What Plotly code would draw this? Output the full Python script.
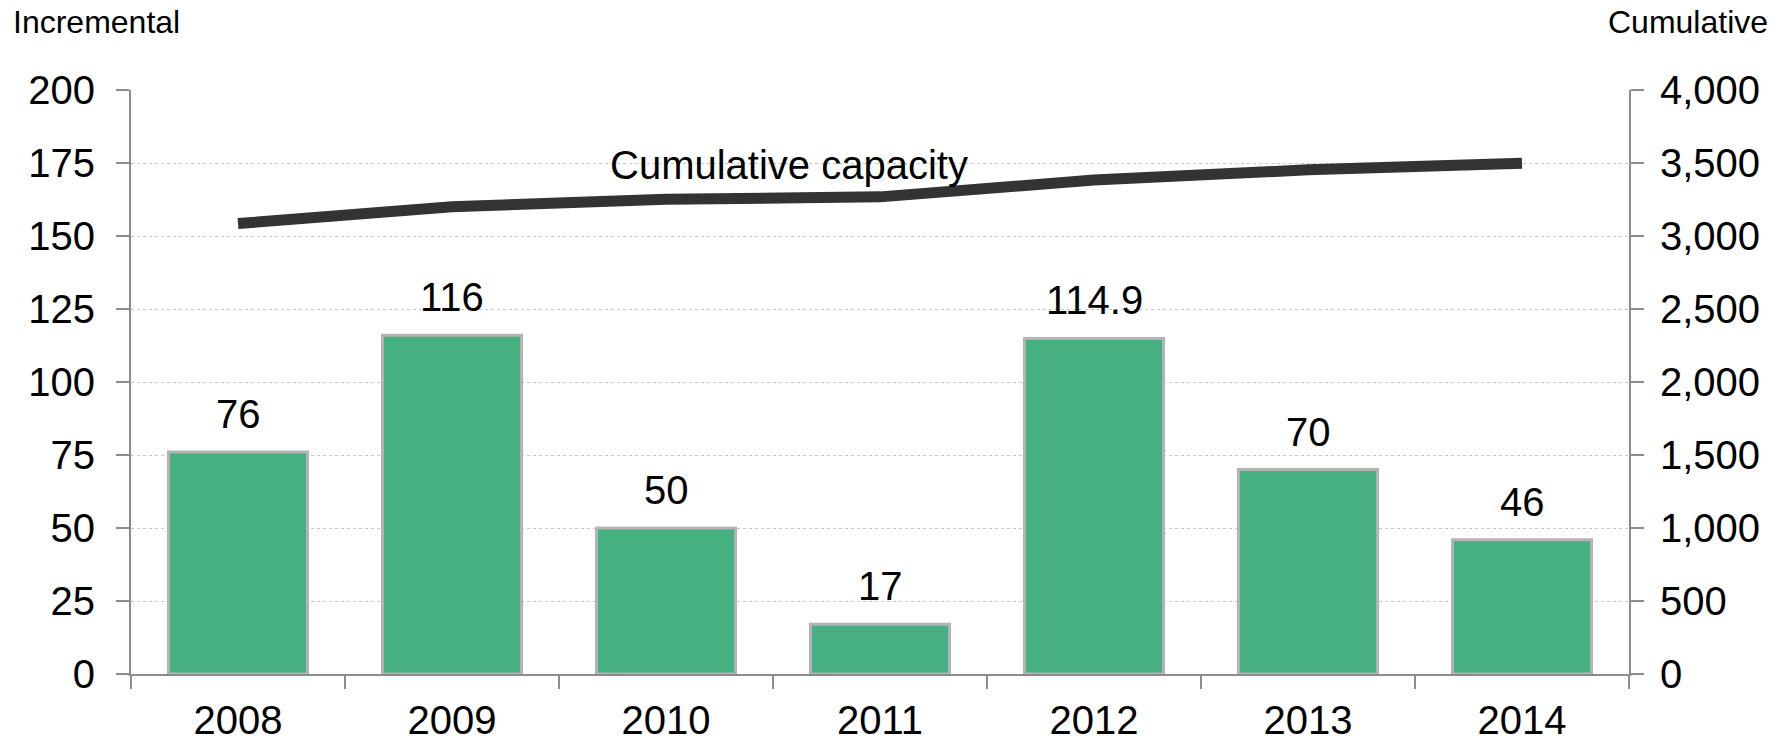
import plotly.graph_objects as go

years = ["2008", "2009", "2010", "2011", "2012", "2013", "2014"]
incremental = [76, 116, 50, 17, 114.9, 70, 46]
incremental_labels = ["76", "116", "50", "17", "114.9", "70", "46"]
cumulative = [3085, 3201, 3251, 3268, 3383, 3453, 3499]

FONT = "Arial, Liberation Sans, sans-serif"
AXIS_COLOR = "#8c8c8c"

W, H = 1780, 741
ML, MR, MT, MB = 131, 151, 90, 67
PW, PH = W - ML - MR, H - MT - MB


def px_to_paper_x(px):
    return (px - ML) / PW


def px_to_paper_y(py):
    return (H - MB - py) / PH


fig = go.Figure()
fig.add_trace(go.Bar(
    x=years, y=incremental, yaxis="y",
    marker=dict(color="#46B080", line=dict(color="#b4b4b4", width=3)),
    width=0.65, showlegend=False, hoverinfo="skip",
))
fig.add_trace(go.Scatter(
    x=years, y=cumulative, yaxis="y2", mode="lines",
    line=dict(color="#333333", width=11), showlegend=False, hoverinfo="skip",
))

for i, (v, t) in enumerate(zip(incremental, incremental_labels)):
    fig.add_annotation(x=i, y=v, xref="x", yref="y", text=t, showarrow=False,
                       yanchor="middle", yshift=38,
                       font=dict(size=40, color="#000000", family=FONT))

fig.add_annotation(x=px_to_paper_x(789), y=174.3, xref="paper", yref="y",
                   text="Cumulative capacity", showarrow=False,
                   xanchor="center", yanchor="middle",
                   font=dict(size=40, color="#000000", family=FONT))

fig.add_annotation(x=px_to_paper_x(11), y=px_to_paper_y(22), xref="paper", yref="paper",
                   text="Incremental", showarrow=False, xanchor="left", yanchor="middle",
                   font=dict(size=32, color="#000000", family=FONT))
fig.add_annotation(x=px_to_paper_x(1770), y=px_to_paper_y(22), xref="paper", yref="paper",
                   text="Cumulative", showarrow=False, xanchor="right", yanchor="middle",
                   font=dict(size=32, color="#000000", family=FONT))

fig.update_layout(
    width=W, height=H,
    margin=dict(l=ML, r=MR, t=MT, b=MB, autoexpand=False),
    paper_bgcolor="white", plot_bgcolor="white",
    font=dict(family=FONT, size=40, color="#000000"),
    xaxis=dict(
        type="category", range=[-0.5, len(years) - 0.5], autorange=False, automargin=False,
        showgrid=False, showline=True, linecolor=AXIS_COLOR, linewidth=2,
        ticks="outside", tickson="boundaries", ticklen=13, tickwidth=2, tickcolor=AXIS_COLOR,
        tickfont=dict(size=40), zeroline=False, tickangle=0, ticklabelstandoff=10,
    ),
    yaxis=dict(
        range=[0, 200], autorange=False, automargin=False, tickvals=list(range(0, 201, 25)),
        showline=True, linecolor=AXIS_COLOR, linewidth=2, ticks="outside", ticklen=13,
        tickwidth=2, tickcolor=AXIS_COLOR, showgrid=True, gridcolor="#c8c8c8", griddash="dot",
        gridwidth=1, zeroline=False, tickfont=dict(size=40), ticklabelstandoff=13,
    ),
    yaxis2=dict(
        range=[0, 4000], autorange=False, automargin=False, tickvals=list(range(0, 4001, 500)),
        tickformat=",", overlaying="y", side="right", showline=True, linecolor=AXIS_COLOR,
        linewidth=2, ticks="outside", ticklen=13, tickwidth=2, tickcolor=AXIS_COLOR,
        showgrid=False, zeroline=False, tickfont=dict(size=40), ticklabelstandoff=8,
    ),
)

fig.write_html(
    "out.html",
    config={"displayModeBar": False},
    post_script="document.body.style.margin='0';document.body.style.overflow='hidden';",
)
